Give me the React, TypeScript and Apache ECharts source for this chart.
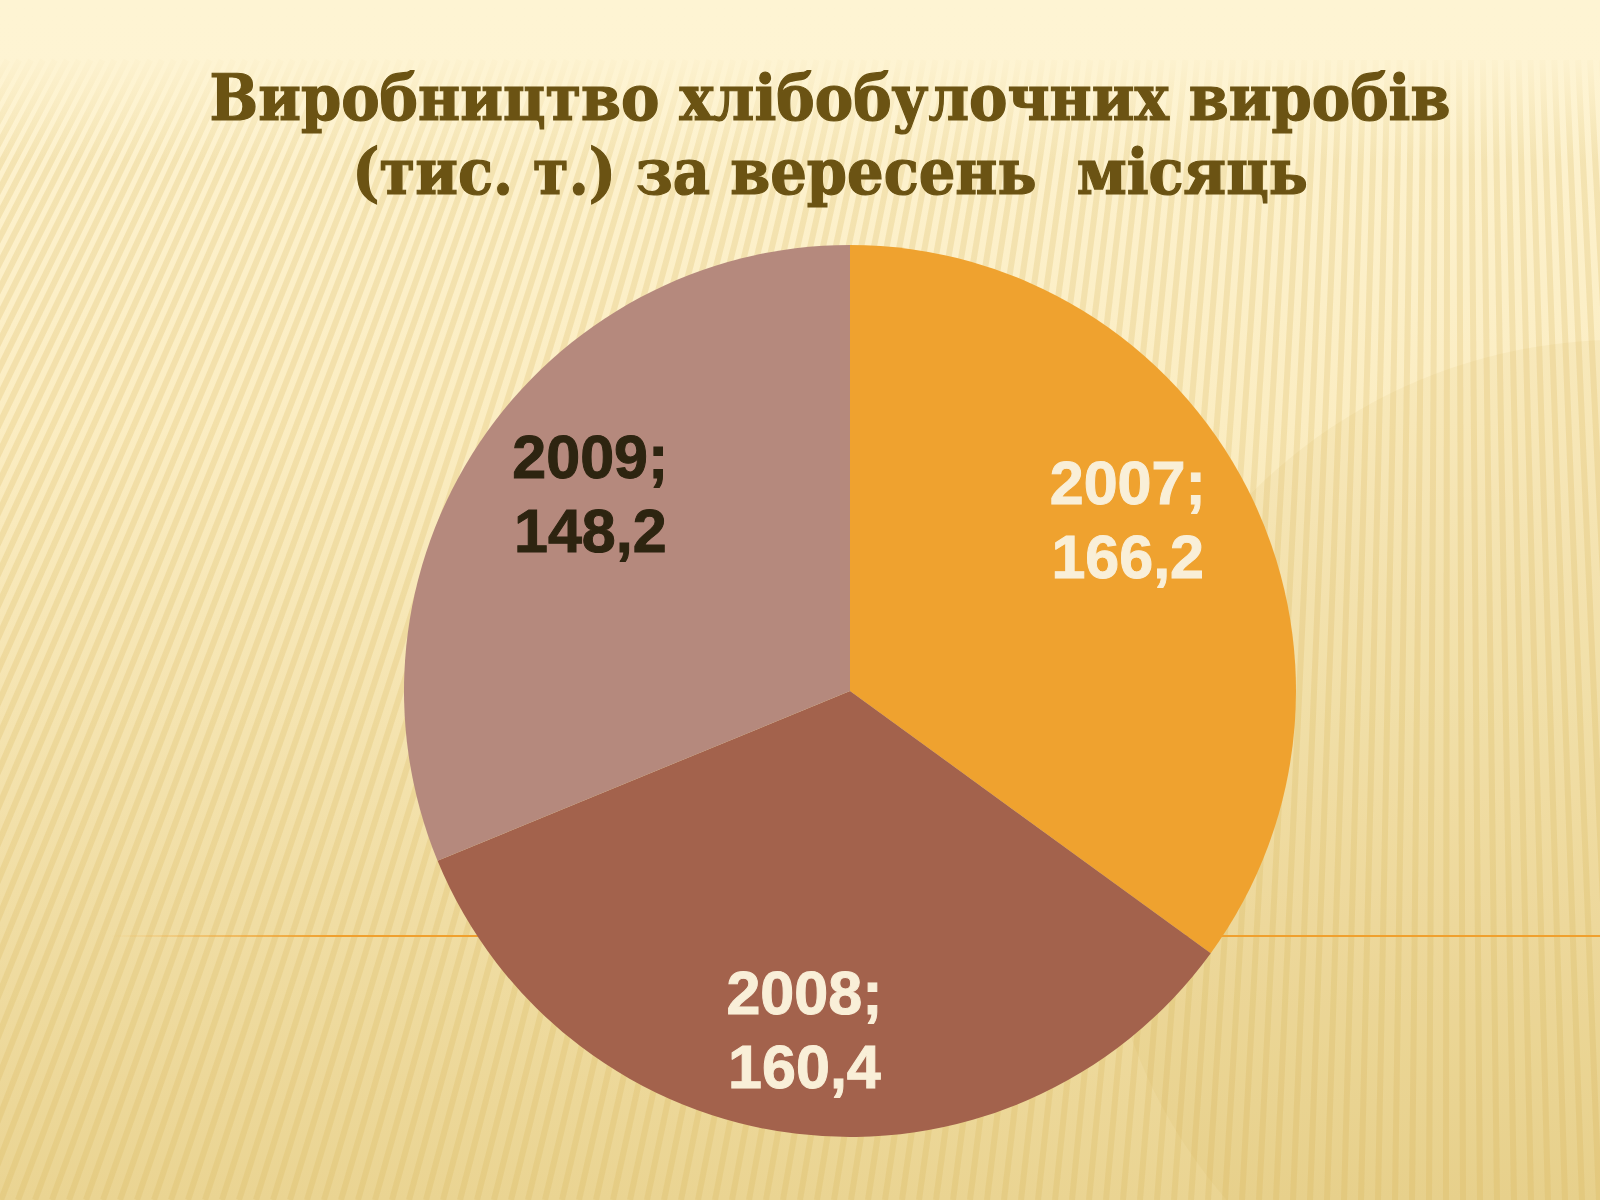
import React, { useEffect, useRef } from "react";
import * as echarts from "echarts";

const categories = ["2007", "2008", "2009"];
const values = [166.2, 160.4, 148.2];
const sliceColors = ["#EFA22F", "#A3624C", "#B5897D"];
const labelColors = ["#F9EFD8", "#F9EFD8", "#2D2410"];
const labelOffsets = [[-19, -20], [-6, 8], [17, -12]];
const titleText = "Виробництво хлібобулочних виробів\n(тис. т.) за вересень  місяць";

function buildStripes() {
  const px = 1450;
  const py = -2600;
  const items: any[] = [];
  for (let xb = -900; xb <= 1750; xb += 17) {
    const t = (60 - py) / (1200 - py);
    const xt = px + (xb - px) * t;
    items.push({
      type: "line",
      silent: true,
      z: 1,
      shape: { x1: xt, y1: 60, x2: xb, y2: 1200 },
      style: { stroke: "rgba(214,178,84,0.22)", lineWidth: 6 },
    });
  }
  return items;
}

export default function App() {
  const ref = useRef<HTMLDivElement>(null);
  useEffect(() => {
    if (!ref.current) return;
    const chart = echarts.init(ref.current, undefined, { renderer: "svg" });
    const data = categories.map((c, i) => ({
      name: c,
      value: values[i],
      itemStyle: { color: sliceColors[i] },
    }));
    const labelData = categories.map((c, i) => ({
      name: c,
      value: values[i],
      itemStyle: { color: "rgba(0,0,0,0)" },
      label: {
        color: labelColors[i],
        textBorderColor: labelColors[i],
        offset: labelOffsets[i],
      },
    }));
    chart.setOption({
      animation: false,
      backgroundColor: "#FCF0C6",
      title: {
        text: titleText,
        left: 825,
        top: 55,
        textAlign: "center",
        textStyle: {
          fontFamily: "DejaVu Serif Condensed",
          fontWeight: "bold",
          fontSize: 64,
          lineHeight: 74,
          color: "#6B5313",
          textBorderColor: "#6B5313",
          textBorderWidth: 1.2,
        },
      },
      graphic: [
        {
          type: "rect",
          silent: true,
          z: 0,
          shape: { x: 0, y: 0, width: 1600, height: 1200 },
          style: {
            fill: new echarts.graphic.LinearGradient(0, 0, 0, 1, [
              { offset: 0, color: "#FEF4D3" },
              { offset: 0.35, color: "#FBEDC2" },
              { offset: 1, color: "#EAD492" },
            ]),
          },
        },
        ...buildStripes(),
        {
          type: "circle",
          silent: true,
          z: 2,
          shape: { cx: 1620, cy: 860, r: 520 },
          style: { fill: "rgba(200,160,60,0.08)" },
        },
        {
          type: "rect",
          silent: true,
          z: 3,
          shape: { x: 0, y: 0, width: 1600, height: 160 },
          style: {
            fill: new echarts.graphic.LinearGradient(0, 0, 0, 1, [
              { offset: 0, color: "rgba(254,244,211,1)" },
              { offset: 0.35, color: "rgba(254,244,211,0.9)" },
              { offset: 1, color: "rgba(254,244,211,0)" },
            ]),
          },
        },
        {
          type: "rect",
          silent: true,
          z: 4,
          shape: { x: 110, y: 935, width: 1490, height: 2 },
          style: {
            fill: new echarts.graphic.LinearGradient(0, 0, 1, 0, [
              { offset: 0, color: "rgba(240,160,46,0)" },
              { offset: 0.15, color: "rgba(240,160,46,1)" },
              { offset: 1, color: "rgba(240,160,46,1)" },
            ]),
          },
        },
      ],
      series: [
        {
          type: "pie",
          z: 10,
          center: [850, 691],
          radius: [0, 446],
          startAngle: 90,
          clockwise: true,
          silent: true,
          label: { show: false },
          labelLine: { show: false },
          data,
        },
        {
          type: "pie",
          z: 11,
          center: [850, 691],
          radius: [0, 660],
          startAngle: 90,
          clockwise: true,
          silent: true,
          labelLine: { show: false },
          label: {
            show: true,
            position: "inner",
            fontFamily: "Liberation Sans",
            fontWeight: "bold",
            fontSize: 61,
            lineHeight: 74,
            align: "center",
            textBorderWidth: 1,
            formatter: (p: any) => `${p.name};\n${String(p.value).replace(".", ",")}`,
          },
          data: labelData,
        },
      ],
    });
    return () => chart.dispose();
  }, []);
  return (
    <div
      ref={ref}
      style={{ position: "fixed", left: 0, top: 0, width: 1600, height: 1200 }}
    />
  );
}
